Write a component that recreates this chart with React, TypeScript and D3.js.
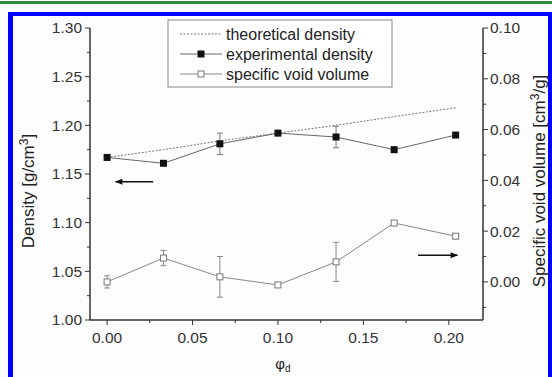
import React from "react";
import * as d3 from "d3";

const phi = [0, 0.033, 0.066, 0.1, 0.134, 0.168, 0.204];
const theoretical = [1.167, 1.175, 1.184, 1.192, 1.2, 1.209, 1.218];
const experimental = [1.167, 1.161, 1.181, 1.192, 1.188, 1.175, 1.19];
const experimentalErr = [0.002, 0.002, 0.011, 0.002, 0.011, 0.002, 0.002];
const voidVolume = [0.0, 0.0094, 0.002, -0.0012, 0.0079, 0.0232, 0.018];
const voidErr = [0.0024, 0.003, 0.008, 0.001, 0.0077, 0.0008, 0.0008];
const xTicks = [0, 0.05, 0.1, 0.15, 0.2];
const leftTicks = [1.0, 1.05, 1.1, 1.15, 1.2, 1.25, 1.3];
const rightTicks = [0.0, 0.02, 0.04, 0.06, 0.08, 0.1];
const legendLabels = ["theoretical density", "experimental density", "specific void volume"];

const W = 552;
const H = 377;
const L = 90, R = 483, T = 28, B = 320;

export default function App() {
  const x = d3.scaleLinear().domain([-0.01, 0.22]).range([L, R]);
  const yL = d3.scaleLinear().domain([1.0, 1.3]).range([B, T]);
  const yR = d3.scaleLinear().domain([-0.015, 0.1]).range([B, T]);
  const font = "Liberation Sans, Arial, sans-serif";
  const axisColor = "#333";
  const lineGray = "#666";

  const lineL = d3.line<number>().x((_, i) => x(phi[i])).y((d) => yL(d));
  const lineR = d3.line<number>().x((_, i) => x(phi[i])).y((d) => yR(d));

  const xMinor = d3.range(0, 9).map((i) => i * 0.025).filter((v) => !xTicks.some((t) => Math.abs(t - v) < 1e-9));
  const lMinor = d3.range(0, 13).map((i) => 1.0 + i * 0.025).filter((v) => !leftTicks.some((t) => Math.abs(t - v) < 1e-9));
  const rMinor = [-0.01, 0.01, 0.03, 0.05, 0.07, 0.09];

  const ms = 7;
  const capW = 3;
  const tickFs = 15.5;

  return (
    <svg width={W} height={H} style={{ position: "absolute", left: 0, top: 0 }} fontFamily={font}>
      <rect x={0} y={0} width={W} height={H} fill="#fdfdfd" />
      <rect x={0} y={1} width={W} height={3} fill="#2e8b3a" />
      <rect x={8} y={12} width={5} height={H - 12} fill="#0000ff" />
      <rect x={8} y={12} width={W - 8} height={4} fill="#0000ff" />
      <rect x={548} y={12} width={4} height={H - 12} fill="#0000ff" />

      {/* axes */}
      <g stroke={axisColor} strokeWidth={1.5} fill="none">
        <line x1={L} y1={T} x2={L} y2={B} />
        <line x1={L} y1={B} x2={R} y2={B} />
        <line x1={R} y1={T} x2={R} y2={B} />
      </g>
      <g stroke={axisColor} strokeWidth={1}>
        {leftTicks.map((t) => (
          <line key={"lt" + t} x1={L - 5} x2={L} y1={yL(t)} y2={yL(t)} />
        ))}
        {lMinor.map((t) => (
          <line key={"lm" + t} x1={L - 3} x2={L} y1={yL(t)} y2={yL(t)} />
        ))}
        {rightTicks.map((t) => (
          <line key={"rt" + t} x1={R} x2={R + 5} y1={yR(t)} y2={yR(t)} />
        ))}
        {rMinor.map((t) => (
          <line key={"rm" + t} x1={R} x2={R + 3} y1={yR(t)} y2={yR(t)} />
        ))}
        {xTicks.map((t) => (
          <line key={"xt" + t} x1={x(t)} x2={x(t)} y1={B} y2={B + 5} />
        ))}
        {xMinor.map((t) => (
          <line key={"xm" + t} x1={x(t)} x2={x(t)} y1={B} y2={B + 3} />
        ))}
      </g>
      <g fill="#333" fontSize={tickFs}>
        {leftTicks.map((t) => (
          <text key={"ll" + t} x={L - 8} y={yL(t)} dy="0.35em" textAnchor="end">
            {t.toFixed(2)}
          </text>
        ))}
        {rightTicks.map((t) => (
          <text key={"rl" + t} x={R + 7} y={yR(t)} dy="0.35em" textAnchor="start">
            {t.toFixed(2)}
          </text>
        ))}
        {xTicks.map((t) => (
          <text key={"xl" + t} x={x(t)} y={B + 23} textAnchor="middle">
            {t.toFixed(2)}
          </text>
        ))}
      </g>
      {/* axis titles */}
      <text x={0} y={0} fontSize={17} fill="#222" textAnchor="middle" transform={`translate(34,191) rotate(-90)`}>
        Density [g/cm<tspan dy="-6" fontSize={12}>3</tspan><tspan dy="6">]</tspan>
      </text>
      <text x={0} y={0} fontSize={17} fill="#222" textAnchor="middle" transform={`translate(545,181) rotate(-90)`}>
        Specific void volume [cm<tspan dy="-6" fontSize={12}>3</tspan><tspan dy="6">/g]</tspan>
      </text>
      <text x={283} y={369} fontSize={15} fill="#222" textAnchor="middle">
        φ<tspan dy="3" fontSize={10}>d</tspan>
      </text>

      {/* theoretical */}
      <path d={lineL(theoretical) || ""} fill="none" stroke="#777" strokeWidth={1} strokeDasharray="2,1.5" />
      {/* experimental */}
      <path d={lineL(experimental) || ""} fill="none" stroke={lineGray} strokeWidth={1} />
      <g stroke="#777" strokeWidth={1}>
        {experimental.map((v, i) => (
          <g key={"ee" + i}>
            <line x1={x(phi[i])} x2={x(phi[i])} y1={yL(v - experimentalErr[i])} y2={yL(v + experimentalErr[i])} />
            <line x1={x(phi[i]) - capW} x2={x(phi[i]) + capW} y1={yL(v - experimentalErr[i])} y2={yL(v - experimentalErr[i])} />
            <line x1={x(phi[i]) - capW} x2={x(phi[i]) + capW} y1={yL(v + experimentalErr[i])} y2={yL(v + experimentalErr[i])} />
          </g>
        ))}
      </g>
      {experimental.map((v, i) => (
        <rect key={"em" + i} x={x(phi[i]) - ms / 2} y={yL(v) - ms / 2} width={ms} height={ms} fill="#111" />
      ))}
      {/* void volume */}
      <path d={lineR(voidVolume) || ""} fill="none" stroke="#888" strokeWidth={1} />
      <g stroke="#888" strokeWidth={1}>
        {voidVolume.map((v, i) => (
          <g key={"ve" + i}>
            <line x1={x(phi[i])} x2={x(phi[i])} y1={yR(v - voidErr[i])} y2={yR(v + voidErr[i])} />
            <line x1={x(phi[i]) - capW} x2={x(phi[i]) + capW} y1={yR(v - voidErr[i])} y2={yR(v - voidErr[i])} />
            <line x1={x(phi[i]) - capW} x2={x(phi[i]) + capW} y1={yR(v + voidErr[i])} y2={yR(v + voidErr[i])} />
          </g>
        ))}
      </g>
      {voidVolume.map((v, i) => (
        <rect key={"vm" + i} x={x(phi[i]) - ms / 2 + 0.5} y={yR(v) - ms / 2 + 0.5} width={ms - 1} height={ms - 1} fill="#fff" stroke="#777" strokeWidth={1} />
      ))}

      {/* arrows */}
      <defs>
        <marker id="ah" viewBox="0 0 10 10" refX="9" refY="5" markerWidth="6" markerHeight="5" orient="auto">
          <path d="M0,1 L10,5 L0,9 z" fill="#111" />
        </marker>
      </defs>
      <line x1={x(0.027)} y1={yL(1.142)} x2={x(0.005)} y2={yL(1.142)} stroke="#111" strokeWidth={1.5} markerEnd="url(#ah)" />
      <line x1={x(0.182)} y1={yR(0.0105)} x2={x(0.205)} y2={yR(0.0105)} stroke="#111" strokeWidth={1.5} markerEnd="url(#ah)" />

      {/* legend */}
      <rect x={168} y={20} width={224} height={67} fill="#fff" stroke="#888" strokeWidth={1} />
      {legendLabels.map((lab, i) => {
        const ly = 34 + i * 20;
        return (
          <g key={"lg" + i}>
            {i === 0 && <line x1={180} x2={222} y1={ly} y2={ly} stroke="#777" strokeDasharray="2,1.5" />}
            {i === 1 && (
              <g>
                <line x1={180} x2={222} y1={ly} y2={ly} stroke={lineGray} />
                <rect x={201 - 3.5} y={ly - 3.5} width={7} height={7} fill="#111" />
              </g>
            )}
            {i === 2 && (
              <g>
                <line x1={180} x2={222} y1={ly} y2={ly} stroke="#888" />
                <rect x={201 - 3} y={ly - 3} width={6} height={6} fill="#fff" stroke="#777" />
              </g>
            )}
            <text x={226} y={ly} dy="0.35em" fontSize={16} fill="#222">
              {lab}
            </text>
          </g>
        );
      })}
    </svg>
  );
}
